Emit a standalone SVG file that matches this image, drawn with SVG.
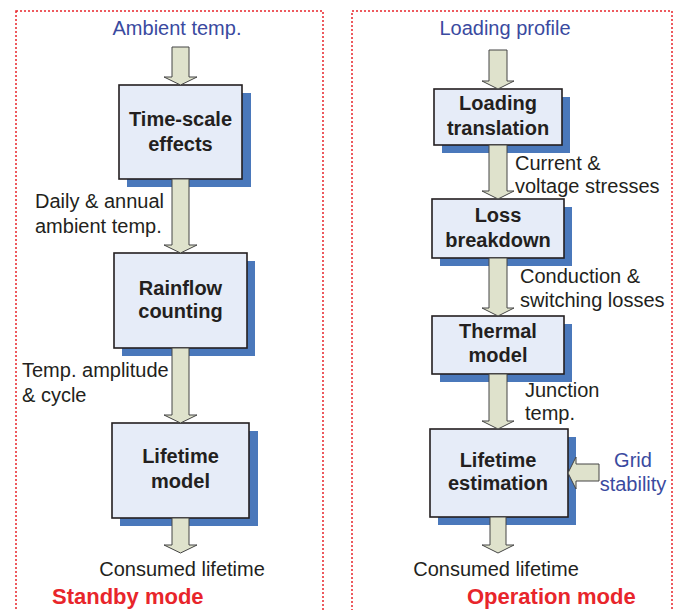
<svg xmlns="http://www.w3.org/2000/svg" width="682" height="610" viewBox="0 0 682 610">
<style>
.frame{fill:none;stroke:#e8252b;stroke-width:1.5;stroke-dasharray:2,2}
.shadow{fill:#4a78bb}
.box{fill:#e6ecf8;stroke:#231f20;stroke-width:1.6}
.arrow{fill:#dfe2cc;stroke:#444;stroke-width:1}
.bt{font-family:"Liberation Sans",Arial,sans-serif;font-weight:bold;font-size:20px;fill:#231f20;text-anchor:middle}
.lt{font-family:"Liberation Sans",Arial,sans-serif;font-size:20px;fill:#231f20}
.in{font-family:"Liberation Sans",Arial,sans-serif;font-size:20px;fill:#3a4aa0;text-anchor:middle}
.mode{font-family:"Liberation Sans",Arial,sans-serif;font-weight:bold;font-size:22px;fill:#e8252b}
</style>
<rect class="frame" x="16" y="11" width="307" height="610"/>
<rect class="frame" x="352" y="11" width="320" height="610"/>

<g id="left-nodes">
<g id="time-scale">
<rect class="shadow" x="127" y="93" width="124" height="94"/>
<rect class="box" x="119" y="85" width="123" height="94"/>
<text class="bt" x="180.5" y="126">Time-scale</text>
<text class="bt" x="180.5" y="151">effects</text>
</g>
<g id="rainflow">
<rect class="shadow" x="122" y="261" width="133" height="95"/>
<rect class="box" x="114" y="253" width="133" height="95"/>
<text class="bt" x="180.5" y="295">Rainflow</text>
<text class="bt" x="180.5" y="318">counting</text>
</g>
<g id="lifetime-model">
<rect class="shadow" x="120" y="431" width="138" height="95"/>
<rect class="box" x="112" y="423" width="137" height="95"/>
<text class="bt" x="180.5" y="463">Lifetime</text>
<text class="bt" x="180.5" y="488">model</text>
</g>
</g>

<g id="right-nodes">
<g id="loading-translation">
<rect class="shadow" x="442" y="97" width="128" height="56"/>
<rect class="box" x="434" y="89" width="128" height="56"/>
<text class="bt" x="498" y="110">Loading</text>
<text class="bt" x="498" y="135">translation</text>
</g>
<g id="loss-breakdown">
<rect class="shadow" x="440" y="207" width="132" height="59"/>
<rect class="box" x="432" y="199" width="132" height="59"/>
<text class="bt" x="498" y="222">Loss</text>
<text class="bt" x="498" y="247">breakdown</text>
</g>
<g id="thermal-model">
<rect class="shadow" x="440" y="324" width="132" height="58"/>
<rect class="box" x="432" y="316" width="132" height="58"/>
<text class="bt" x="498" y="338">Thermal</text>
<text class="bt" x="498" y="362">model</text>
</g>
<g id="lifetime-estimation">
<rect class="shadow" x="438" y="437" width="138" height="88"/>
<rect class="box" x="430" y="429" width="138" height="88"/>
<text class="bt" x="498" y="467">Lifetime</text>
<text class="bt" x="498" y="490">estimation</text>
</g>
</g>

<g id="connectors">
<polygon class="arrow" points="172,47 189,47 189,77 197,77 180.5,85 164,77 172,77"/>
<polygon class="arrow" points="172,179 189,179 189,245 197,245 180.5,253 164,245 172,245"/>
<polygon class="arrow" points="172,348 189,348 189,415 197,415 180.5,423 164,415 172,415"/>
<polygon class="arrow" points="172,518 189,518 189,545 197,545 180.5,553 164,545 172,545"/>
<polygon class="arrow" points="489,50 507,50 507,81 514,81 498,89 482,81 489,81"/>
<polygon class="arrow" points="489,145 507,145 507,191 514,191 498,199 482,191 489,191"/>
<polygon class="arrow" points="489,258 507,258 507,308 514,308 498,316 482,308 489,308"/>
<polygon class="arrow" points="489,374 507,374 507,421 514,421 498,429 482,421 489,421"/>
<polygon class="arrow" points="490,517 506,517 506,545 514,545 498,553 482,545 490,545"/>
<polygon class="arrow" points="599,464 599,481 576,481 576,489 568,473 576,457 576,464"/>
</g>

<g id="labels">
<text class="in" x="177" y="35">Ambient temp.</text>
<text class="lt" x="35" y="208">Daily &amp; annual</text>
<text class="lt" x="35" y="233">ambient temp.</text>
<text class="lt" x="22" y="377">Temp. amplitude</text>
<text class="lt" x="22" y="402">&amp; cycle</text>
<text class="lt" x="182" y="576" text-anchor="middle">Consumed lifetime</text>
<text class="mode" x="52" y="604">Standby mode</text>

<text class="in" x="505" y="35">Loading profile</text>
<text class="lt" x="515" y="170">Current &amp;</text>
<text class="lt" x="515" y="193">voltage stresses</text>
<text class="lt" x="520" y="283">Conduction &amp;</text>
<text class="lt" x="520" y="307">switching losses</text>
<text class="lt" x="525" y="397">Junction</text>
<text class="lt" x="525" y="420">temp.</text>
<text class="in" x="633" y="467">Grid</text>
<text class="in" x="633" y="491">stability</text>
<text class="lt" x="496" y="576" text-anchor="middle">Consumed lifetime</text>
<text class="mode" x="467" y="604">Operation mode</text>
</g>
</svg>
